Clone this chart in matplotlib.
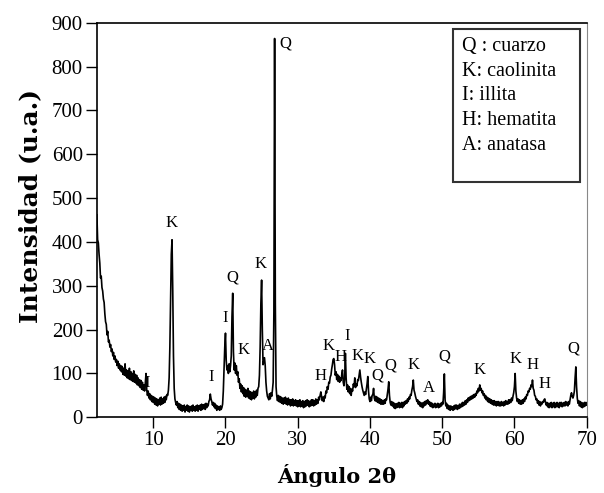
#!/usr/bin/env python3

import numpy as np
import matplotlib
matplotlib.use('Agg')
import matplotlib.pyplot as plt
from matplotlib.patches import Rectangle

plt.rcParams['font.family'] = ['Liberation Serif', 'DejaVu Serif']

# scan grid (degrees 2theta)
scan_start = 2.2
scan_step = 0.1

# intensity, one row per degree
intensity = [
    462, 405, 398, 372, 352, 318, 322, 296,                      # 2.2-2.9
    288, 270, 262, 236, 218, 212, 188, 196, 172, 176,            # 3
    160, 166, 150, 156, 140, 148, 132, 140, 126, 132,            # 4
    118, 128, 112, 122, 108, 118, 104, 116, 98, 112,             # 5
    96, 122, 94, 108, 90, 106, 88, 112, 86, 104,                 # 6
    84, 100, 82, 106, 80, 98, 78, 96, 74, 90,                    # 7
    72, 86, 68, 84, 64, 80, 62, 74, 60, 78,                      # 8
    100, 62, 50, 60, 44, 54, 40, 50, 36, 48,                     # 9
    34, 46, 30, 44, 28, 42, 26, 40, 30, 44,                      # 10
    28, 46, 30, 42, 32, 46, 34, 48, 40, 52,                      # 11
    50, 62, 90, 160, 270, 372, 405, 290, 140, 66,                # 12
    42, 34, 28, 36, 22, 32, 18, 30, 16, 28,                      # 13
    14, 26, 16, 28, 12, 24, 16, 28, 14, 26,                      # 14
    12, 24, 16, 26, 14, 28, 16, 24, 14, 26,                      # 15
    16, 28, 14, 26, 18, 28, 16, 30, 18, 28,                      # 16
    20, 30, 18, 32, 22, 30, 26, 36, 40, 53,                      # 17
    42, 36, 28, 34, 24, 32, 20, 28, 16, 26,                      # 18
    18, 24, 16, 26, 18, 22, 30, 60, 110, 160,                    # 19
    192, 130, 108, 118, 100, 122, 104, 118, 140, 230,            # 20
    283, 150, 108, 124, 100, 118, 96, 104, 80, 88,               # 21
    66, 76, 58, 72, 54, 68, 48, 64, 46, 62,                      # 22
    48, 66, 44, 60, 42, 58, 40, 56, 44, 60,                      # 23
    42, 58, 46, 62, 50, 66, 70, 96, 160, 260,                    # 24
    313, 200, 120, 128, 136, 118, 80, 60, 48, 44,                # 25
    40, 54, 42, 56, 48, 62, 80, 240, 864, 260,                   # 26
    70, 48, 38, 50, 36, 48, 34, 46, 32, 44,                      # 27
    30, 44, 32, 46, 30, 42, 28, 44, 30, 40,                      # 28
    26, 40, 28, 42, 26, 38, 28, 40, 26, 38,                      # 29
    24, 38, 26, 40, 24, 36, 26, 38, 22, 36,                      # 30
    24, 38, 26, 40, 28, 38, 24, 36, 26, 40,                      # 31
    28, 40, 26, 38, 28, 42, 30, 40, 32, 46,                      # 32
    40, 50, 58, 48, 38, 46, 36, 48, 44, 60,                      # 33
    56, 70, 64, 80, 78, 92, 96, 110, 120, 132,                   # 34
    134, 120, 96, 104, 86, 98, 82, 94, 80, 90,                   # 35
    84, 98, 108, 80, 72, 90, 146, 90, 64, 74,                    # 36
    58, 70, 54, 66, 50, 64, 60, 76, 70, 90,                      # 37
    68, 76, 72, 86, 84, 96, 108, 92, 80, 70,                     # 38
    62, 56, 50, 58, 52, 64, 76, 93, 60, 42,                      # 39
    36, 46, 38, 50, 52, 66, 44, 38, 48, 36,                      # 40
    46, 34, 44, 32, 42, 30, 40, 30, 38, 30,                      # 41
    40, 32, 42, 40, 52, 64, 81, 50, 34, 28,                      # 42
    36, 26, 34, 22, 32, 20, 30, 22, 32, 24,                      # 43
    34, 22, 32, 24, 34, 22, 34, 26, 36, 30,                      # 44
    38, 32, 42, 36, 46, 42, 52, 50, 62, 70,                      # 45
    85, 62, 56, 48, 42, 36, 40, 30, 36, 26,                      # 46
    34, 24, 32, 22, 34, 26, 36, 28, 38, 32,                      # 47
    40, 30, 36, 26, 34, 24, 32, 22, 30, 24,                      # 48
    32, 22, 30, 24, 32, 22, 30, 24, 32, 26,                      # 49
    34, 30, 56, 99, 40, 26, 32, 20, 28, 18,                      # 50
    26, 16, 26, 18, 24, 16, 26, 18, 28, 20,                      # 51
    28, 18, 26, 20, 30, 22, 30, 24, 34, 26,                      # 52
    34, 28, 38, 30, 40, 34, 44, 38, 46, 40,                      # 53
    48, 42, 50, 44, 52, 46, 54, 50, 60, 56,                      # 54
    66, 60, 74, 62, 66, 56, 60, 50, 54, 44,                      # 55
    50, 40, 46, 36, 44, 34, 42, 32, 40, 30,                      # 56
    38, 28, 38, 28, 36, 26, 36, 28, 36, 26,                      # 57
    34, 26, 36, 28, 34, 26, 36, 28, 38, 30,                      # 58
    36, 30, 40, 32, 40, 34, 44, 38, 48, 56,                      # 59
    70, 100, 60, 44, 36, 42, 32, 40, 30, 38,                     # 60
    30, 40, 32, 42, 36, 46, 42, 52, 50, 60,                      # 61
    58, 66, 64, 74, 70, 85, 66, 62, 50, 48,                      # 62
    40, 42, 32, 38, 28, 36, 26, 34, 30, 36,                      # 63
    34, 40, 42, 34, 28, 34, 24, 32, 22, 32,                      # 64
    24, 34, 22, 32, 24, 34, 22, 32, 24, 34,                      # 65
    24, 32, 22, 34, 26, 34, 24, 32, 26, 34,                      # 66
    26, 36, 28, 34, 26, 36, 30, 40, 50, 56,                      # 67
    48, 44, 50, 60, 90, 115, 70, 44, 32, 38,                     # 68
    26, 36, 24, 34, 22, 32, 24, 34, 26, 34,                      # 69
    28,                                                          # 70
]

# phase labels above the reflections
peak_labels = ['I', 'K', 'I', 'I', 'Q', 'K', 'K', 'A', 'Q',
               'H', 'K', 'H', 'I', 'K', 'K', 'Q', 'Q', 'K', 'A',
               'Q', 'K', 'K', 'H', 'H', 'Q']
label_x = [9.2, 12.6, 18.0, 20.0, 20.9, 22.5, 24.8, 25.9, 28.3,
           33.2, 34.3, 35.9, 36.8, 38.3, 40.0, 41.0, 42.8, 46.0, 48.2,
           50.3, 55.2, 60.2, 62.5, 64.2, 68.2]
label_y = [78, 443, 92, 226, 320, 154, 350, 163, 852,
           94, 163, 138, 185, 140, 134, 96, 119, 119, 66,
           138, 108, 134, 119, 77, 157]

phases = ['Q : cuarzo', 'K: caolinita', 'I: illita', 'H: hematita', 'A: anatasa']

two_theta = scan_start + scan_step * np.arange(len(intensity))

fig = plt.figure(figsize=(6.04, 4.93), dpi=100)
ax = fig.add_axes([0.160, 0.1535, 0.8113, 0.8004])

ax.plot(two_theta, intensity, color='black', linewidth=1.2)

for lab, lx, ly in zip(peak_labels, label_x, label_y):
    ax.text(lx, ly, lab, fontsize=12, ha='center', va='center')

ax.set_xlim(2.164, 70)
ax.set_ylim(0, 900)
ax.set_xticks(range(10, 71, 10))
ax.set_yticks(range(0, 901, 100))
ax.tick_params(direction='out', length=8, width=1, labelsize=15, pad=2)
for s in ['left', 'bottom', 'top']:
    ax.spines[s].set_linewidth(1.2)
ax.spines['right'].set_color('#888888')

fig.text(0.05, 0.582, 'Intensidad (u.a.)', rotation=90, fontsize=18,
         fontweight='bold', ha='center', va='center', family='DejaVu Serif')
fig.text(0.558, 0.036, 'Ángulo 2θ', fontsize=15, fontweight='bold',
         ha='center', va='center', family='DejaVu Serif')

# legend box with phase names
fig.patches.append(Rectangle((0.750, 0.631), 0.210, 0.310, transform=fig.transFigure,
                             fill=False, edgecolor='#333333', linewidth=1.5))
for i, name in enumerate(phases):
    fig.text(0.765, 1 - (47 + 24.5 * i) / 493, name, fontsize=14.5, va='center', ha='left')

fig.savefig('out.png', dpi=100)
